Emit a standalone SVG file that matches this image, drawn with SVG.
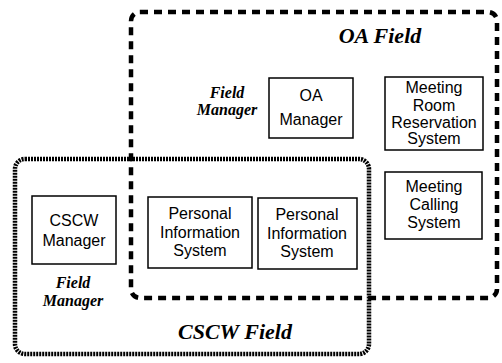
<svg xmlns="http://www.w3.org/2000/svg" width="502" height="363" viewBox="0 0 502 363">
<style>
.box{fill:#fff;stroke:#000;stroke-width:1.5}
.t{font-family:"Liberation Sans",Arial,sans-serif;font-size:16px;fill:#000;text-anchor:middle}
.fl{font-family:"Liberation Serif","Times New Roman",serif;font-weight:bold;font-style:italic;fill:#000;text-anchor:middle}
.oa{fill:none;stroke:#000;stroke-width:4.5;stroke-dasharray:8 6}
.cs{fill:none;stroke:#000;stroke-width:4.5;stroke-dasharray:2 1}
</style>
<rect width="502" height="363" fill="#fff"/>
<g id="oa-field">
<rect class="oa" x="131" y="12" width="366" height="286" rx="9"/>
<text class="fl" x="380" y="43" font-size="22">OA Field</text>
</g>
<g id="cscw-field">
<rect class="cs" x="15" y="159" width="354" height="195" rx="10"/>
<text class="fl" x="235" y="339" font-size="22">CSCW Field</text>
</g>
<g id="oa-manager">
<rect class="box" x="269" y="78" width="84" height="60"/>
<text class="t" x="311" y="101">OA</text>
<text class="t" x="311" y="125">Manager</text>
<text class="fl" x="227" y="98" font-size="16">Field</text>
<text class="fl" x="227" y="115" font-size="16">Manager</text>
</g>
<g id="meeting-room">
<rect class="box" x="385" y="77" width="98" height="73"/>
<text class="t" x="434" y="93">Meeting</text>
<text class="t" x="434" y="111">Room</text>
<text class="t" x="434" y="128">Reservation</text>
<text class="t" x="434" y="144">System</text>
</g>
<g id="meeting-calling">
<rect class="box" x="385" y="172" width="97" height="67"/>
<text class="t" x="434" y="192">Meeting</text>
<text class="t" x="434" y="210">Calling</text>
<text class="t" x="434" y="228">System</text>
</g>
<g id="cscw-manager">
<rect class="box" x="32" y="196" width="84" height="68"/>
<text class="t" x="74" y="226">CSCW</text>
<text class="t" x="74" y="246">Manager</text>
<text class="fl" x="73" y="288" font-size="16">Field</text>
<text class="fl" x="73" y="306" font-size="16">Manager</text>
</g>
<g id="pis-1">
<rect class="box" x="148" y="197" width="104" height="71"/>
<text class="t" x="200" y="219">Personal</text>
<text class="t" x="200" y="238">Information</text>
<text class="t" x="200" y="256">System</text>
</g>
<g id="pis-2">
<rect class="box" x="258" y="198" width="99" height="71"/>
<text class="t" x="307" y="220">Personal</text>
<text class="t" x="307" y="239">Information</text>
<text class="t" x="307" y="257">System</text>
</g>
<g id="connectors"></g>
</svg>
